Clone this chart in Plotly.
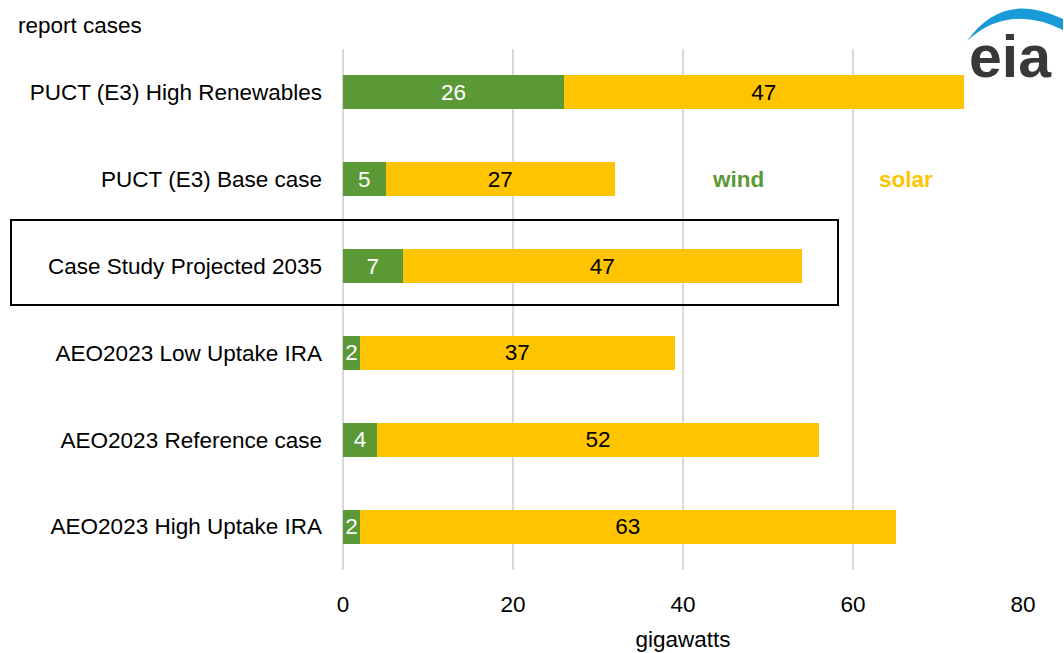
import plotly.graph_objects as go

# Report cases, top to bottom as listed
cases = [
    "PUCT (E3) High Renewables",
    "PUCT (E3) Base case",
    "Case Study Projected 2035",
    "AEO2023 Low Uptake IRA",
    "AEO2023 Reference case",
    "AEO2023 High Uptake IRA",
]
wind_gw = [26, 5, 7, 2, 4, 2]
solar_gw = [47, 27, 47, 37, 52, 63]
x_ticks = [0, 20, 40, 60, 80]

GREEN = "#5B9836"
YELLOW = "#FFC400"
GRID = "#D9D9D9"
FONT = "Liberation Sans, Arial, sans-serif"
FS = 22.5

W, H = 1064, 653
L, R, T, B = 343, 41, 49, 83
PX0, PX1 = L, W - R
PY0, PY1 = T, H - B


def px(x):
    return (x - PX0) / (PX1 - PX0)


def py(y):
    return (PY1 - y) / (PY1 - PY0)


fig = go.Figure()
fig.add_trace(go.Bar(
    y=cases, x=wind_gw, orientation="h", name="wind",
    marker=dict(color=GREEN, line=dict(width=0)),
    text=wind_gw, texttemplate="%{x}", textposition="inside",
    insidetextanchor="middle", textangle=0, constraintext="none",
    insidetextfont=dict(color="white", size=FS, family=FONT),
))
fig.add_trace(go.Bar(
    y=cases, x=solar_gw, orientation="h", name="solar",
    marker=dict(color=YELLOW, line=dict(width=0)),
    text=solar_gw, texttemplate="%{x}", textposition="inside",
    insidetextanchor="middle", textangle=0, constraintext="none",
    insidetextfont=dict(color="black", size=FS, family=FONT),
))

shapes = [
    # highlight box around the case study row
    dict(type="rect", xref="paper", yref="paper",
         x0=px(11), x1=px(838), y0=py(305), y1=py(220),
         line=dict(color="black", width=2), fillcolor="rgba(0,0,0,0)", layer="above"),
    # blue swoosh of the logo
    dict(type="path", xref="paper", yref="paper",
         path=(f"M {px(967)},{py(41)} "
               f"Q {px(1003)},{py(-10)} {px(1063)},{py(19)} "
               f"L {px(1063)},{py(30)} "
               f"Q {px(1008)},{py(3)} {px(967)},{py(41)} Z"),
         line=dict(width=0), fillcolor="#1A9AD7", layer="above"),
]

annotations = [
    dict(text="report cases", xref="paper", yref="paper", x=px(16), y=py(25),
         xanchor="left", yanchor="middle", showarrow=False,
         font=dict(size=FS, color="black", family=FONT)),
    dict(text="<b>wind</b>", xref="paper", yref="paper", x=px(738), y=py(179),
         xanchor="center", yanchor="middle", showarrow=False,
         font=dict(size=FS, color=GREEN, family=FONT)),
    dict(text="<b>solar</b>", xref="paper", yref="paper", x=px(906), y=py(179),
         xanchor="center", yanchor="middle", showarrow=False,
         font=dict(size=FS, color=YELLOW, family=FONT)),
    dict(text="<b>eia</b>", xref="paper", yref="paper", x=px(1010), y=py(57),
         xanchor="center", yanchor="middle", showarrow=False,
         font=dict(size=59, color="#383838", family=FONT)),
]

fig.update_layout(
    width=W, height=H,
    margin=dict(l=L, r=R, t=T, b=B),
    paper_bgcolor="white", plot_bgcolor="white",
    barmode="stack", bargap=0.61,
    showlegend=False,
    font=dict(family=FONT, size=FS, color="black"),
    shapes=shapes, annotations=annotations,
    xaxis=dict(
        range=[0, 80], tickvals=x_ticks, showgrid=True,
        gridcolor=GRID, gridwidth=2,
        zeroline=True, zerolinecolor=GRID, zerolinewidth=2, showline=False,
        ticks="", ticklabelstandoff=18, automargin=False,
        tickfont=dict(size=FS, family=FONT),
        title=dict(text="gigawatts", font=dict(size=FS, family=FONT), standoff=15),
        fixedrange=True,
    ),
    yaxis=dict(
        categoryorder="array", categoryarray=cases[::-1],
        showgrid=False, zeroline=False, showline=False,
        ticks="", ticklabelstandoff=20, automargin=False,
        tickfont=dict(size=FS, family=FONT),
        fixedrange=True,
    ),
)

fig.write_html("out.html")
